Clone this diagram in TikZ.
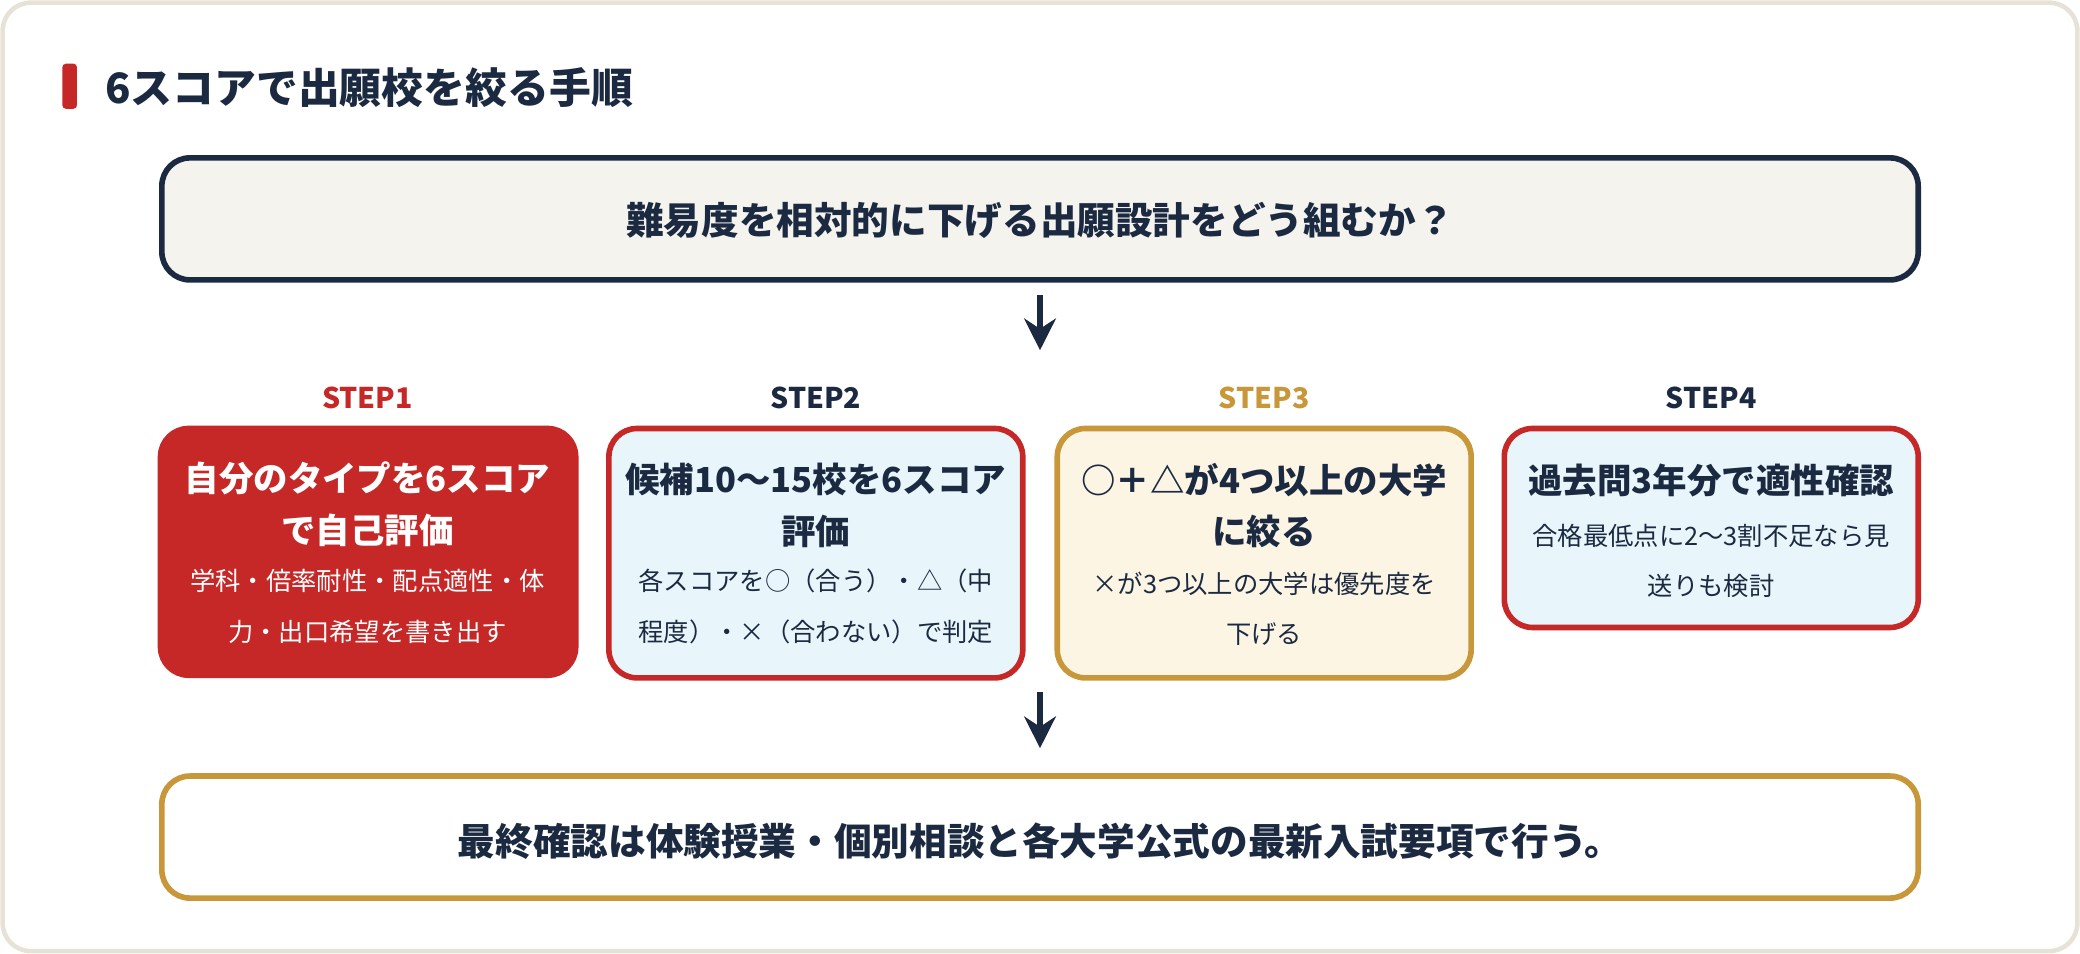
\documentclass[tikz,border=0pt]{standalone}
\usepackage{fontspec}
\setmainfont{Noto Sans CJK JP}
\usetikzlibrary{arrows.meta}
\definecolor{navy}{HTML}{1B2A41}
\definecolor{redc}{HTML}{C62828}
\definecolor{goldc}{HTML}{C8973A}
\definecolor{cream}{HTML}{F5F3EE}
\definecolor{paleblue}{HTML}{E8F6FB}
\definecolor{palegold}{HTML}{FDF5E4}
\definecolor{frame}{HTML}{E6E3D6}
\begin{document}
\begin{tikzpicture}[x=0.013265cm,y=-0.013265cm,
    box/.style={draw,rounded corners=8pt,line width=1.6pt},
    steplbl/.style={font=\fontsize{8.1}{9}\selectfont\bfseries},
    ttl/.style={font=\fontsize{9.8}{14.6}\selectfont\bfseries,align=center,text=navy},
    body/.style={font=\fontsize{7.2}{14.3}\selectfont,align=center,text=navy},
    flow/.style={-{Stealth[length=9pt,width=9pt]},line width=1.6pt,draw=navy},
    ]
    \useasboundingbox (0,0) rectangle (1568,719);
    \draw[frame,fill=white,rounded corners=8pt,line width=1.3pt] (2,2) rectangle (1566,717);
    % title
    \fill[redc,rounded corners=1pt] (47,48) rectangle (58,82);
    \node[anchor=west,text=navy,font=\fontsize{11.9}{14}\selectfont\bfseries] (title) at (70,66) {6スコアで出願校を絞る手順};
    % question
    \draw[box,draw=navy,fill=cream] (122,119) rectangle (1446,211);
    \node[text=navy,font=\fontsize{10.7}{13}\selectfont\bfseries] (q) at (784,166) {難易度を相対的に下げる出願設計をどう組むか？};
    % steps
    \draw[box,draw=redc,fill=redc] (121,323) rectangle (434,509);
    \draw[box,draw=redc,fill=paleblue] (459,323) rectangle (771,511);
    \draw[box,draw=goldc,fill=palegold] (797,323) rectangle (1109,511);
    \draw[box,draw=redc,fill=paleblue] (1134,323) rectangle (1446,473);
    \node[steplbl,text=redc] (l1) at (277,300) {STEP1};
    \node[steplbl,text=navy] (l2) at (615,300) {STEP2};
    \node[steplbl,text=goldc] (l3) at (953,300) {STEP3};
    \node[steplbl,text=navy] (l4) at (1290,300) {STEP4};
    \node[ttl,text=white] (t1) at (277,380) {自分のタイプを6スコア\\で自己評価};
    \node[body,text=white] (b1) at (277,457) {学科・倍率耐性・配点適性・体\\力・出口希望を書き出す};
    \node[ttl] (t2) at (615,381) {候補10〜15校を6スコア\\評価};
    \node[body] (b2) at (615,457) {各スコアを○（合う）・△（中\\程度）・×（合わない）で判定};
    \node[ttl] (t3) at (953,381) {○＋△が4つ以上の大学\\に絞る};
    \node[body] (b3) at (953,459) {×が3つ以上の大学は優先度を\\下げる};
    \node[ttl] (t4) at (1290,362) {過去問3年分で適性確認};
    \node[body] (b4) at (1290,423) {合格最低点に2〜3割不足なら見\\送りも検討};
    % final
    \draw[box,draw=goldc,fill=white] (122,585) rectangle (1446,677);
    \node[text=navy,font=\fontsize{10.7}{13}\selectfont\bfseries] (fin) at (784,634) {最終確認は体験授業・個別相談と各大学公式の最新入試要項で行う。};
    \coordinate (a1) at (784,222); \coordinate (a2) at (784,264);
    \coordinate (a3) at (784,522); \coordinate (a4) at (784,564);
    \draw[flow] (a1) -- (a2);
    \draw[flow] (a3) -- (a4);
\end{tikzpicture}
\end{document}
